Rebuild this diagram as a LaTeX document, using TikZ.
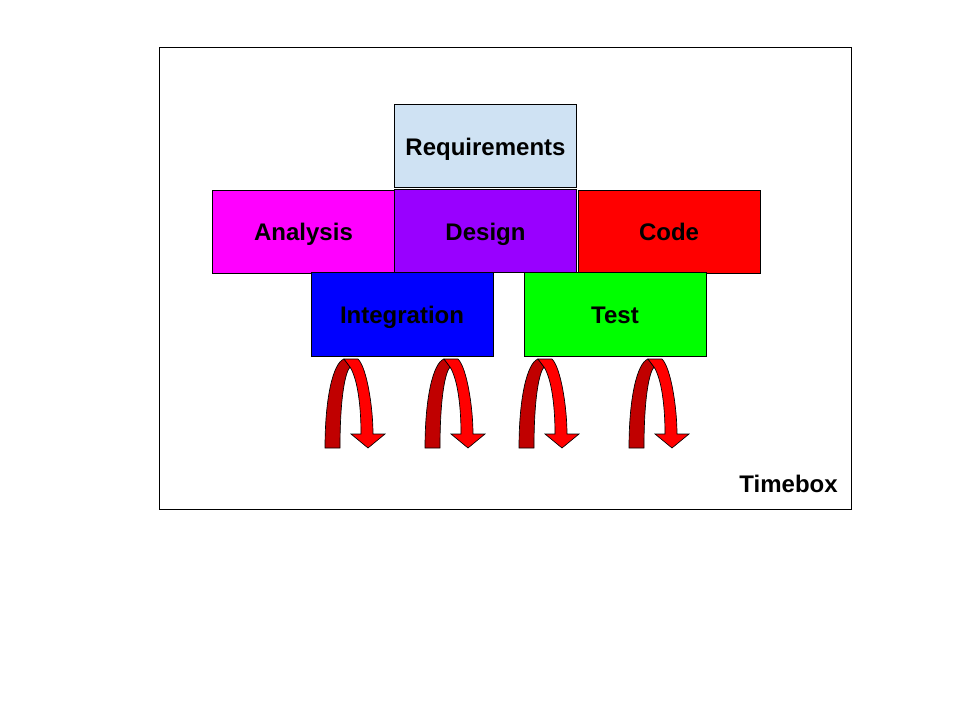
\documentclass[tikz,border=0pt]{standalone}
\usepackage{fontspec}
\setmainfont{Liberation Sans}
\usepackage{tikz}
\usetikzlibrary{positioning}
\definecolor{colorreq}{HTML}{CFE2F3}
\definecolor{colorana}{HTML}{FF00FF}
\definecolor{colordes}{HTML}{9900FF}
\definecolor{colorcod}{HTML}{FF0000}
\definecolor{colorint}{HTML}{0000FF}
\definecolor{colortst}{HTML}{00FF00}
\definecolor{colorback}{HTML}{C00000}
\definecolor{colorfront}{HTML}{FF0000}
\tikzset{
  phase/.style={draw=black, line width=0.75pt, inner sep=0pt,
    minimum width=136.5pt, minimum height=62.25pt,
    text height=1.3em, text depth=0pt,
    font=\fontsize{18}{21}\selectfont\bfseries},
  turnback/.style={fill=colorback, draw=black, line width=0.5pt},
  turnfront/.style={fill=colorfront, draw=black, line width=0.5pt}
}

\begin{document}
\begin{tikzpicture}[x=0.75pt, y=-0.75pt]
\useasboundingbox (0,0) rectangle (960,720);
\draw[line width=0.75pt] (159,48) rectangle (851,509);

\node[phase, fill=colorreq](req) at (485.5,146.5) {Requirements};
\node[phase, fill=colorana](ana) at (303.5,232) {Analysis};
\node[phase, fill=colordes](des) at (485.5,231.5) {Design};
\node[phase, fill=colorcod](cod) at (669,232) {Code};
\node[phase, fill=colorint](int) at (402,314.5) {Integration};
\node[phase, fill=colortst](tst) at (615,314.5) {Test};

% loop-back arrows under the phases
\foreach \xa in {325,425,519,629}{
  \begin{scope}[shift={(\xa,448)}]
    \draw[turnback] (0,0) -- (15,0) .. controls (15,-50) and (20,-75) .. (25,-81)
      -- (19,-89) .. controls (8,-85) and (0,-50) .. (0,0) -- cycle;
    \draw[turnfront] (19,-89) -- (33,-89) .. controls (42,-80) and (48,-40) .. (48,-14)
      -- (60,-14) -- (43,0) -- (26,-14) -- (36,-14)
      .. controls (36,-45) and (32,-70) .. (25,-81) -- cycle;
  \end{scope}
}

\node[anchor=east, inner sep=0pt, font=\fontsize{18}{21}\selectfont\bfseries](tbx)
  at (838,484) {Timebox};
\end{tikzpicture}
\end{document}
